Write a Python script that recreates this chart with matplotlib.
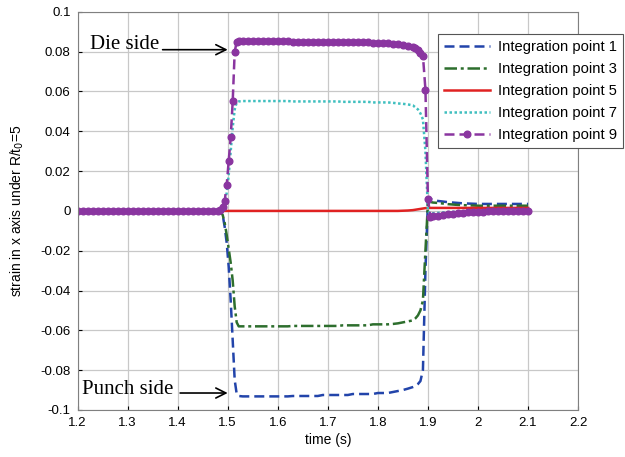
import matplotlib
matplotlib.use("Agg")
import matplotlib.pyplot as plt

plt.rcParams['font.family'] = ['Liberation Sans', 'DejaVu Sans']

# time samples (s)
t = [1.20, 1.21, 1.22, 1.23, 1.24, 1.25, 1.26, 1.27, 1.28, 1.29,
     1.30, 1.31, 1.32, 1.33, 1.34, 1.35, 1.36, 1.37, 1.38, 1.39,
     1.40, 1.41, 1.42, 1.43, 1.44, 1.45, 1.46, 1.47, 1.48,
     1.485, 1.49, 1.494, 1.498, 1.502, 1.506, 1.51, 1.514, 1.518, 1.522,
     1.53, 1.54, 1.55, 1.56, 1.57, 1.58, 1.59, 1.60, 1.61, 1.62,
     1.63, 1.64, 1.65, 1.66, 1.67, 1.68, 1.69, 1.70, 1.71, 1.72,
     1.73, 1.74, 1.75, 1.76, 1.77, 1.78, 1.79, 1.80, 1.81, 1.82,
     1.83, 1.84, 1.85, 1.86, 1.87,
     1.875, 1.88, 1.885, 1.89, 1.895, 1.90, 1.905,
     1.91, 1.92, 1.93, 1.94, 1.95, 1.96, 1.97, 1.98, 1.99, 2.00,
     2.01, 2.02, 2.03, 2.04, 2.05, 2.06, 2.07, 2.08, 2.09, 2.10]

ip1 = ([0.0] * 29
       + [-0.0005, -0.002, -0.008, -0.016, -0.028, -0.045, -0.065, -0.085, -0.092, -0.093]
       + [-0.0932] * 10 + [-0.093] * 6 + [-0.0925] * 6 + [-0.092] * 5 + [-0.0915] * 3
       + [-0.091, -0.0905, -0.090, -0.0893, -0.0885]
       + [-0.088, -0.087, -0.0855, -0.080, -0.030, 0.005, 0.006]
       + [0.0055, 0.005, 0.0047, 0.0044, 0.0042, 0.004, 0.0038, 0.0037, 0.0036] + [0.0035] * 11)

ip3 = ([0.0] * 29
       + [-0.0005, -0.002, -0.006, -0.012, -0.019, -0.026, -0.035, -0.048, -0.056, -0.058]
       + [-0.058] * 10 + [-0.0578] * 10 + [-0.0575] * 6 + [-0.057] * 4
       + [-0.0568, -0.0565, -0.056, -0.0555, -0.055]
       + [-0.054, -0.0525, -0.050, -0.045, -0.020, 0.004, 0.0045]
       + [0.0042, 0.004, 0.0037, 0.0034, 0.0032, 0.003, 0.0029, 0.0028, 0.0027] + [0.0026] * 11)

ip5 = ([0.0] * 29 + [0.0] * 10 + [0.0] * 32
       + [0.0001, 0.0002, 0.0004]
       + [0.0006, 0.0008, 0.001, 0.0012, 0.0014, 0.0015, 0.0015]
       + [0.0015] * 20)

ip7 = ([0.0] * 29
       + [0.0003, 0.001, 0.004, 0.009, 0.018, 0.030, 0.042, 0.051, 0.0545, 0.055]
       + [0.0552] * 10 + [0.055] * 10 + [0.0548] * 6 + [0.0545] * 4
       + [0.0543, 0.054, 0.0538, 0.0535, 0.053]
       + [0.052, 0.051, 0.049, 0.046, 0.030, 0.0, -0.0015]
       + [-0.0012, -0.001, -0.0008, -0.0006, -0.0005, -0.0004, -0.0003, -0.0002, -0.0001, 0.0]
       + [0.0] * 10)

ip9 = ([0.0] * 29
       + [0.0005, 0.002, 0.005, 0.013, 0.025, 0.037, 0.055, 0.080, 0.085, 0.0855]
       + [0.0855] * 10 + [0.085] * 10 + [0.0848] * 6 + [0.0845] * 4
       + [0.084, 0.0838, 0.0835, 0.083, 0.0825]
       + [0.082, 0.081, 0.0795, 0.078, 0.061, 0.006, -0.003]
       + [-0.0028, -0.0024, -0.002, -0.0017, -0.0014, -0.0011, -0.0009, -0.0007, -0.0005, -0.0004,
          -0.0003, -0.0002, -0.0002, -0.0001, -0.0001, 0.0, 0.0, 0.0, 0.0, 0.0])

labels = ['Integration point 1', 'Integration point 3', 'Integration point 5',
          'Integration point 7', 'Integration point 9']
xticks = [1.2, 1.3, 1.4, 1.5, 1.6, 1.7, 1.8, 1.9, 2.0, 2.1, 2.2]
xticklabels = ['1.2', '1.3', '1.4', '1.5', '1.6', '1.7', '1.8', '1.9', '2', '2.1', '2.2']
yticks = [-0.1, -0.08, -0.06, -0.04, -0.02, 0, 0.02, 0.04, 0.06, 0.08, 0.1]
yticklabels = ['-0.1', '-0.08', '-0.06', '-0.04', '-0.02', '0', '0.02', '0.04', '0.06', '0.08', '0.1']

fig = plt.figure(figsize=(6.25, 4.57), dpi=100)
ax = fig.add_axes([0.124, 0.103, 0.801, 0.871])

ax.plot(t, ip1, color='#2244aa', ls=(0, (4, 2)), lw=1.8, label=labels[0])
ax.plot(t, ip3, color='#2d6e2d', ls=(0, (5, 1.5, 1.2, 1.5)), lw=1.8, label=labels[1])
ax.plot(t, ip5, color='#e02222', ls='-', lw=1.8, label=labels[2])
ax.plot(t, ip7, color='#3fbfbf', ls=(0, (1, 1)), lw=1.8, label=labels[3])
ax.plot(t, ip9, color='#8a35a0', ls=(0, (4, 2)), lw=1.8, marker='o', ms=4.8,
        label=labels[4])

ax.set_xlim(1.2, 2.2)
ax.set_ylim(-0.1, 0.1)
ax.set_xticks(xticks)
ax.set_xticklabels(xticklabels)
ax.set_yticks(yticks)
ax.set_yticklabels(yticklabels)
ax.tick_params(direction='in', length=3, width=0.8, labelsize=9.5, pad=5)
ax.grid(True, color='#c8c8c8', lw=0.9)
ax.set_axisbelow(True)
for s in ax.spines.values():
    s.set_color('#808080')
    s.set_linewidth(0.8)

ax.set_xlabel('time (s)', fontsize=10, labelpad=3)
ax.set_ylabel('strain in x axis under R/t$_0$=5', fontsize=10, labelpad=10)

# annotations
ax.text(1.224, 0.0835, 'Die side', family='Liberation Serif', fontsize=15,
        ha='left', va='center')
ax.annotate('', xy=(1.5, 0.081), xytext=(1.37, 0.081),
            arrowprops=dict(arrowstyle='->', lw=1.2, color='black',
                            mutation_scale=18, shrinkA=0, shrinkB=0))
ax.text(1.208, -0.0895, 'Punch side', family='Liberation Serif', fontsize=15,
        ha='left', va='center')
ax.annotate('', xy=(1.5, -0.0915), xytext=(1.405, -0.0915),
            arrowprops=dict(arrowstyle='->', lw=1.2, color='black',
                            mutation_scale=18, shrinkA=0, shrinkB=0))

leg = ax.legend(loc='upper left', bbox_to_anchor=(438 / 625, 1 - 34 / 457),
                bbox_transform=fig.transFigure, fontsize=10.6, handlelength=3.1,
                fancybox=False, framealpha=1, edgecolor='#555555',
                borderpad=0.4, labelspacing=0.55, handletextpad=0.6,
                borderaxespad=0)
leg.get_frame().set_linewidth(0.8)

fig.savefig('out.png', dpi=100)
